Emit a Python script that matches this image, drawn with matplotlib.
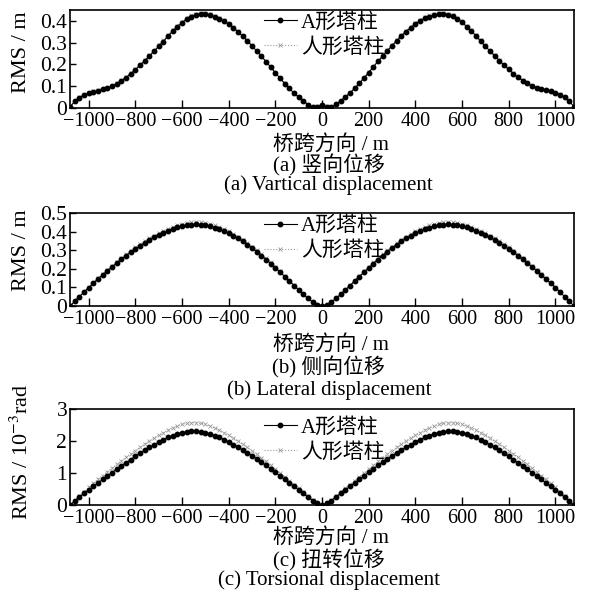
import numpy as np
import matplotlib
matplotlib.use('Agg')
import matplotlib.pyplot as plt
from matplotlib.ticker import FuncFormatter

plt.rcParams['font.family'] = ['Liberation Serif', 'Noto Sans CJK SC']
plt.rcParams['axes.unicode_minus'] = True
plt.rcParams['mathtext.fontset'] = 'stix'

# stations along the bridge, every 20 m
span_x = np.arange(-1080, 1081, 20)

# (a) vertical displacement RMS (m)
vert_a = [0.005, 0.030, 0.048, 0.060, 0.068, 0.075, 0.080, 0.085, 0.092, 0.100,
          0.112, 0.125, 0.140, 0.157, 0.176, 0.196, 0.217, 0.238, 0.260, 0.283,
          0.305, 0.330, 0.352, 0.373, 0.392, 0.408, 0.420, 0.428, 0.431, 0.430,
          0.426, 0.419, 0.410, 0.398, 0.385, 0.368, 0.350, 0.330, 0.308, 0.285,
          0.262, 0.238, 0.213, 0.188, 0.162, 0.137, 0.112, 0.090, 0.068, 0.050,
          0.032, 0.016, 0.004, 0.006,
          0.012,
          0.006, 0.004, 0.017, 0.033, 0.051, 0.069, 0.091, 0.113, 0.138, 0.163,
          0.189, 0.214, 0.239, 0.263, 0.286, 0.309, 0.331, 0.351, 0.369, 0.386,
          0.399, 0.411, 0.420, 0.427, 0.431, 0.432, 0.429, 0.421, 0.409, 0.393,
          0.374, 0.353, 0.331, 0.306, 0.284, 0.261, 0.239, 0.218, 0.197, 0.177,
          0.158, 0.141, 0.126, 0.113, 0.101, 0.093, 0.086, 0.081, 0.076, 0.069,
          0.061, 0.049, 0.031, 0.006]
vert_b = [0.005, 0.031, 0.049, 0.061, 0.069, 0.076, 0.081, 0.086, 0.093, 0.101,
          0.113, 0.127, 0.142, 0.159, 0.179, 0.199, 0.220, 0.242, 0.264, 0.287,
          0.310, 0.335, 0.357, 0.378, 0.397, 0.413, 0.425, 0.433, 0.436, 0.435,
          0.431, 0.424, 0.414, 0.402, 0.388, 0.371, 0.352, 0.332, 0.310, 0.287,
          0.263, 0.239, 0.214, 0.189, 0.163, 0.138, 0.113, 0.090, 0.068, 0.050,
          0.032, 0.016, 0.005, 0.007,
          0.013,
          0.007, 0.005, 0.017, 0.033, 0.051, 0.069, 0.091, 0.114, 0.139, 0.164,
          0.190, 0.215, 0.240, 0.265, 0.289, 0.312, 0.335, 0.355, 0.374, 0.391,
          0.405, 0.417, 0.426, 0.433, 0.436, 0.436, 0.433, 0.425, 0.413, 0.397,
          0.378, 0.357, 0.335, 0.310, 0.287, 0.264, 0.242, 0.220, 0.199, 0.179,
          0.159, 0.142, 0.127, 0.114, 0.102, 0.094, 0.087, 0.082, 0.077, 0.070,
          0.062, 0.050, 0.032, 0.006]

# (b) lateral displacement RMS (m)
lat_a = [0.000, 0.025, 0.050, 0.075, 0.099, 0.122, 0.145, 0.167, 0.189, 0.210,
         0.231, 0.251, 0.270, 0.289, 0.307, 0.324, 0.340, 0.355, 0.369, 0.382,
         0.394, 0.405, 0.415, 0.423, 0.430, 0.435, 0.438, 0.439, 0.438, 0.434,
         0.429, 0.422, 0.413, 0.403, 0.391, 0.378, 0.363, 0.347, 0.330, 0.311,
         0.292, 0.271, 0.250, 0.228, 0.205, 0.182, 0.158, 0.134, 0.110, 0.086,
         0.063, 0.041, 0.021, 0.006,
         0.002,
         0.006, 0.021, 0.041, 0.063, 0.086, 0.110, 0.134, 0.158, 0.182, 0.205,
         0.228, 0.250, 0.271, 0.292, 0.311, 0.330, 0.347, 0.363, 0.378, 0.391,
         0.403, 0.413, 0.422, 0.429, 0.434, 0.438, 0.439, 0.438, 0.435, 0.430,
         0.423, 0.415, 0.405, 0.394, 0.382, 0.369, 0.355, 0.340, 0.324, 0.307,
         0.289, 0.270, 0.251, 0.231, 0.210, 0.189, 0.167, 0.145, 0.122, 0.099,
         0.075, 0.050, 0.025, 0.000]
lat_b = [0.000, 0.026, 0.051, 0.077, 0.101, 0.125, 0.149, 0.171, 0.194, 0.215,
         0.237, 0.257, 0.277, 0.296, 0.315, 0.332, 0.349, 0.364, 0.378, 0.392,
         0.404, 0.415, 0.425, 0.434, 0.441, 0.446, 0.449, 0.450, 0.449, 0.445,
         0.440, 0.433, 0.424, 0.413, 0.401, 0.388, 0.372, 0.356, 0.338, 0.319,
         0.299, 0.278, 0.256, 0.234, 0.210, 0.186, 0.162, 0.137, 0.113, 0.088,
         0.065, 0.042, 0.022, 0.006,
         0.002,
         0.006, 0.022, 0.042, 0.065, 0.088, 0.113, 0.137, 0.162, 0.186, 0.210,
         0.234, 0.256, 0.278, 0.299, 0.319, 0.338, 0.356, 0.372, 0.388, 0.401,
         0.413, 0.424, 0.433, 0.440, 0.445, 0.449, 0.450, 0.449, 0.446, 0.441,
         0.434, 0.425, 0.415, 0.404, 0.392, 0.378, 0.364, 0.349, 0.332, 0.315,
         0.296, 0.277, 0.257, 0.237, 0.215, 0.194, 0.171, 0.149, 0.125, 0.101,
         0.077, 0.051, 0.026, 0.000]

# (c) torsional displacement RMS (1e-3 rad)
tor_a = [0.00, 0.12, 0.24, 0.36, 0.47, 0.58, 0.69, 0.80, 0.91, 1.01,
         1.12, 1.22, 1.32, 1.42, 1.52, 1.61, 1.71, 1.80, 1.88, 1.96,
         2.04, 2.11, 2.17, 2.22, 2.26, 2.29, 2.30, 2.30, 2.29, 2.26,
         2.22, 2.17, 2.11, 2.04, 1.97, 1.89, 1.81, 1.72, 1.63, 1.54,
         1.44, 1.34, 1.24, 1.13, 1.02, 0.91, 0.80, 0.69, 0.58, 0.47,
         0.36, 0.25, 0.14, 0.05,
         0.00,
         0.05, 0.14, 0.25, 0.36, 0.47, 0.58, 0.69, 0.80, 0.91, 1.02,
         1.13, 1.24, 1.34, 1.44, 1.54, 1.63, 1.72, 1.81, 1.89, 1.97,
         2.04, 2.11, 2.17, 2.22, 2.26, 2.29, 2.30, 2.30, 2.29, 2.26,
         2.22, 2.17, 2.11, 2.04, 1.96, 1.88, 1.80, 1.71, 1.61, 1.52,
         1.42, 1.32, 1.22, 1.12, 1.01, 0.91, 0.80, 0.69, 0.58, 0.47,
         0.36, 0.24, 0.12, 0.00]
tor_b = [0.00, 0.14, 0.28, 0.42, 0.55, 0.68, 0.80, 0.92, 1.04, 1.15,
         1.27, 1.38, 1.49, 1.60, 1.70, 1.80, 1.90, 2.00, 2.09, 2.18,
         2.26, 2.34, 2.41, 2.47, 2.52, 2.55, 2.57, 2.57, 2.55, 2.52,
         2.47, 2.41, 2.34, 2.26, 2.18, 2.09, 2.00, 1.90, 1.80, 1.70,
         1.59, 1.48, 1.36, 1.24, 1.12, 1.00, 0.88, 0.76, 0.64, 0.52,
         0.40, 0.28, 0.16, 0.06,
         0.00,
         0.06, 0.16, 0.28, 0.40, 0.52, 0.64, 0.76, 0.88, 1.00, 1.12,
         1.24, 1.36, 1.48, 1.59, 1.70, 1.80, 1.90, 2.00, 2.09, 2.18,
         2.26, 2.34, 2.41, 2.47, 2.52, 2.55, 2.57, 2.57, 2.55, 2.52,
         2.47, 2.41, 2.34, 2.26, 2.18, 2.09, 2.00, 1.90, 1.80, 1.70,
         1.60, 1.49, 1.38, 1.27, 1.15, 1.04, 0.92, 0.80, 0.68, 0.55,
         0.42, 0.28, 0.14, 0.00]

series_names = ['A形塔柱', '人形塔柱']
x_ticks = [-1000, -800, -600, -400, -200, 0, 200, 400, 600, 800, 1000]
x_title = '桥跨方向 / m'

for arr in (vert_a, vert_b, lat_a, lat_b, tor_a, tor_b):
    assert len(arr) == len(span_x), len(arr)

FS = 15


def ytick_fmt(v, pos):
    if abs(v) < 1e-9:
        return '0'
    if abs(v - round(v)) < 1e-9:
        return '%d' % round(v)
    return '%.1f' % v


# one panel: both curves, axes styling, labels underneath
def draw_panel(fig, rect, a, b, ylim, yticks, ylabel, ylabel_y, leg_y,
               cap_cn, cap_en, text_y):
    ax = fig.add_axes(rect)
    ax.plot(span_x, b, linestyle=':', color='#9a9a9a', linewidth=0.8,
            marker='x', markersize=3, markeredgewidth=0.6, label=series_names[1])
    ax.plot(span_x, a, linestyle='-', color='black', linewidth=0.8,
            marker='o', markersize=3.2, label=series_names[0])
    # keep legend order A first
    handles, labels = ax.get_legend_handles_labels()
    ax.legend(handles[::-1], labels[::-1], loc='upper left',
              bbox_to_anchor=(0.355, leg_y), frameon=False, fontsize=FS,
              handlelength=1.6, handletextpad=0.2, labelspacing=0.25,
              borderpad=0.2)
    ax.set_xlim(-1080, 1080)
    ax.set_ylim(*ylim)
    ax.set_xticks(x_ticks)
    ax.set_yticks(yticks)
    ax.yaxis.set_major_formatter(FuncFormatter(ytick_fmt))
    ax.tick_params(axis='x', direction='in', length=6, width=1, labelsize=14.5, pad=3)
    ax.tick_params(axis='y', direction='in', length=4, width=1, labelsize=15.5, pad=2)
    for s in ax.spines.values():
        s.set_linewidth(1.2)
    fig.text(22 / 600, ylabel_y, ylabel, rotation=90, ha='center', va='center', fontsize=16)
    xc = 0.552
    fig.text(xc, text_y[0], x_title, ha='center', va='center', fontsize=FS)
    fig.text(xc - 0.004, text_y[1], cap_cn, ha='center', va='center', fontsize=FS)
    fig.text(xc - 0.004, text_y[2], cap_en, ha='center', va='center', fontsize=FS)
    return ax


fig = plt.figure(figsize=(6.0, 5.99), dpi=100)

draw_panel(fig, [70 / 600, 1 - 108 / 599, 504 / 600, 98 / 599], vert_a, vert_b,
           (0, 0.45), [0, 0.1, 0.2, 0.3, 0.4], 'RMS / m', 1 - 52 / 599, 1.12,
           '(a) 竖向位移', '(a) Vartical displacement',
           (1 - 145 / 599, 1 - 165 / 599, 1 - 185 / 599))
draw_panel(fig, [70 / 600, 1 - 306 / 599, 504 / 600, 93 / 599], lat_a, lat_b,
           (0, 0.5), [0, 0.1, 0.2, 0.3, 0.4, 0.5], 'RMS / m', 1 - 250 / 599, 1.12,
           '(b) 侧向位移', '(b) Lateral displacement',
           (1 - 345 / 599, 1 - 367 / 599, 1 - 390 / 599))
draw_panel(fig, [70 / 600, 1 - 505 / 599, 504 / 600, 96 / 599], tor_a, tor_b,
           (0, 3), [0, 1, 2, 3], 'RMS / 10$^{-3}$rad', 1 - 452 / 599, 1.06,
           '(c) 扭转位移', '(c) Torsional displacement',
           (1 - 538 / 599, 1 - 560 / 599, 1 - 580 / 599))

fig.savefig('out.png', dpi=100)
